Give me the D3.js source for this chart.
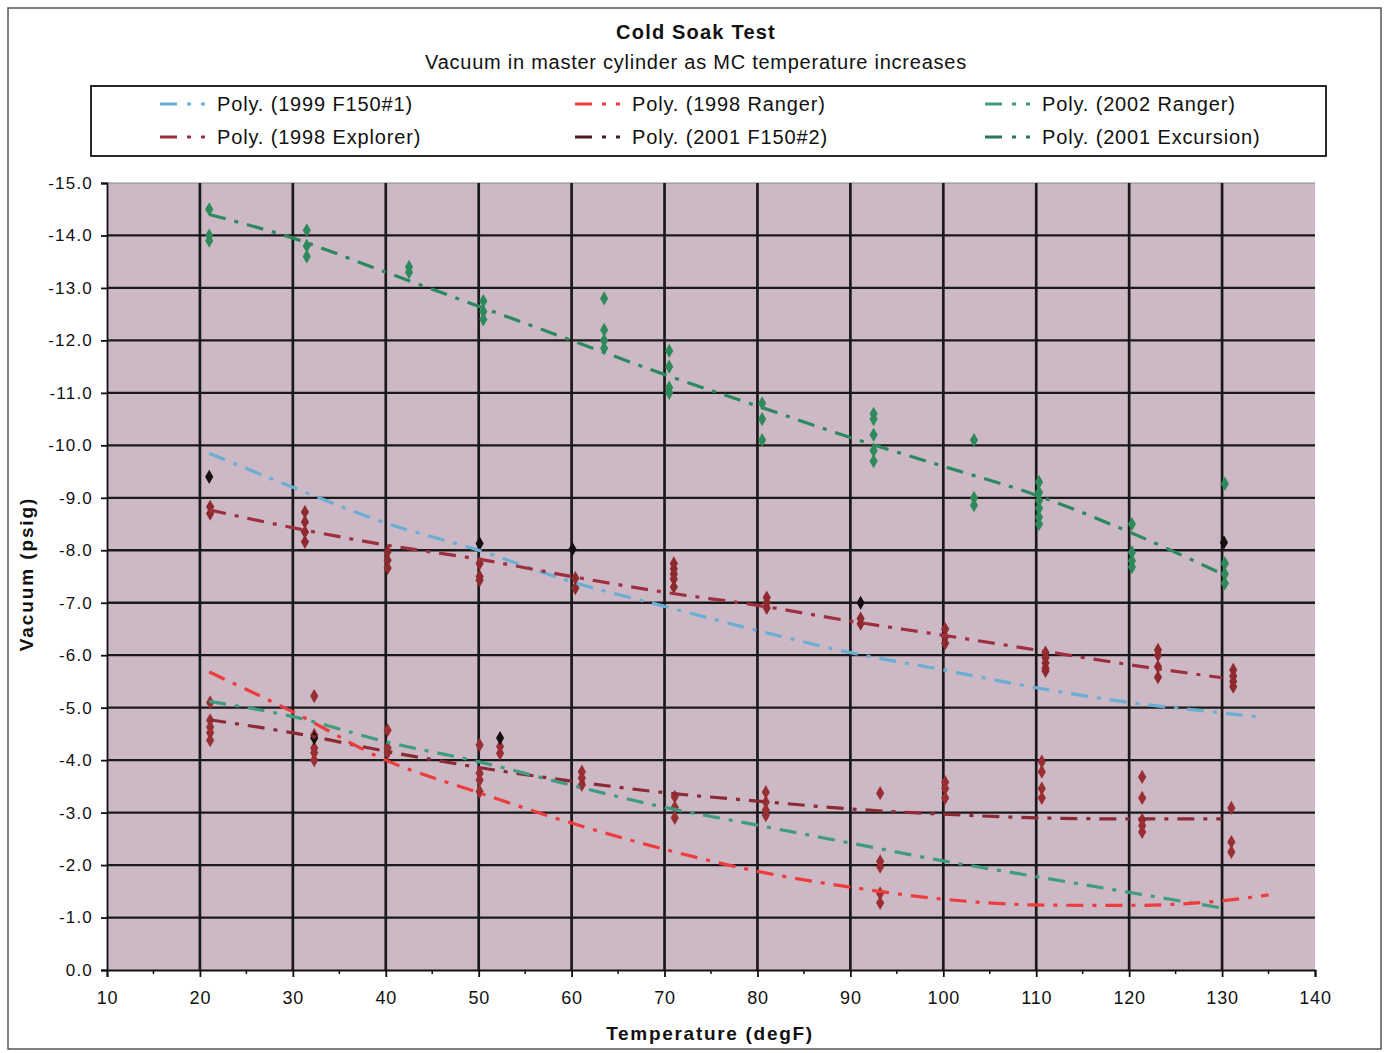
<!DOCTYPE html>
<html>
<head>
<meta charset="utf-8">
<script src="https://cdn.jsdelivr.net/npm/d3@7"></script>
<style>
  html, body { margin: 0; padding: 0; background: #fff; }
  svg { display: block; }
  text { font-family: "Liberation Sans", Arial, sans-serif; fill: #111; }
</style>
</head>
<body>
<svg id="chart" width="1385" height="1053"></svg>
<script>
// ---------- DATA ----------
const chartTitle = "Cold Soak Test";
const chartSubtitle = "Vacuum in master cylinder as MC temperature increases";
const xTitle = "Temperature (degF)";
const yTitle = "Vacuum (psig)";
const xTicks = [10, 20, 30, 40, 50, 60, 70, 80, 90, 100, 110, 120, 130, 140];
const yTicks = [0, -1, -2, -3, -4, -5, -6, -7, -8, -9, -10, -11, -12, -13, -14, -15];

// Trendline (polynomial) values
const trendX = [21, 30, 40, 50, 60, 70, 80, 90, 100, 110, 120, 130];
const f150_1Trend   = [-9.85, -9.2, -8.52, -8.0, -7.4, -6.93, -6.47, -6.05, -5.72, -5.38, -5.1, -4.9];
const f150_1TrendEnd = [[134, -4.82]];
const ranger98Trend = [-5.68, -4.92, -4.0, -3.38, -2.8, -2.3, -1.88, -1.58, -1.35, -1.24, -1.23, -1.32];
const ranger98TrendEnd = [[135, -1.43]];
const ranger02Trend = [-5.12, -4.83, -4.35, -3.97, -3.52, -3.1, -2.76, -2.42, -2.08, -1.78, -1.48, -1.18];
const explorerTrend = [-8.77, -8.43, -8.1, -7.83, -7.5, -7.2, -6.95, -6.65, -6.38, -6.1, -5.82, -5.57];
const f150_2Trend   = [-4.77, -4.52, -4.17, -3.86, -3.6, -3.38, -3.22, -3.07, -2.97, -2.9, -2.88, -2.88];
const excursionTrend = [-14.4, -13.95, -13.3, -12.65, -12.0, -11.35, -10.75, -10.15, -9.6, -9.05, -8.35, -7.55];

// Measured points [temperature, vacuum]
const excursionPoints = [
  [21, -14.5], [21, -14.0], [21, -13.9],
  [31.5, -14.1], [31.5, -13.8], [31.5, -13.6],
  [42.5, -13.4], [42.5, -13.3],
  [50.5, -12.75], [50.5, -12.55], [50.5, -12.4],
  [63.5, -12.8], [63.5, -12.2], [63.5, -12.0], [63.5, -11.85],
  [70.5, -11.8], [70.5, -11.5], [70.5, -11.1], [70.5, -11.0],
  [80.5, -10.8], [80.5, -10.5], [80.5, -10.1],
  [92.5, -10.6], [92.5, -10.5], [92.5, -10.2], [92.5, -9.9], [92.5, -9.7],
  [103.3, -10.1], [103.3, -9.0], [103.3, -8.86],
  [110.3, -9.3], [110.3, -9.1], [110.3, -8.95], [110.3, -8.8], [110.3, -8.63], [110.3, -8.5],
  [120.3, -8.5], [120.3, -7.96], [120.3, -7.8], [120.3, -7.68],
  [130.3, -9.27], [130.3, -7.75], [130.3, -7.55], [130.3, -7.37]
];
const explorerPoints = [
  [21.1, -8.83], [21.1, -8.7],
  [31.3, -8.73], [31.3, -8.54], [31.3, -8.35], [31.3, -8.16],
  [40.2, -7.97], [40.2, -7.81], [40.2, -7.66],
  [50.1, -7.75], [50.1, -7.5], [50.1, -7.43],
  [60.4, -7.47], [60.4, -7.28],
  [71, -7.75], [71, -7.65], [71, -7.55], [71, -7.45], [71, -7.3],
  [81, -7.1], [81, -7.0], [81, -6.9],
  [91.1, -6.7], [91.1, -6.6],
  [100.2, -6.5], [100.2, -6.35], [100.2, -6.23],
  [111, -6.05], [111, -5.95], [111, -5.85], [111, -5.75], [111, -5.7],
  [123.1, -6.1], [123.1, -6.0], [123.1, -5.78], [123.1, -5.58],
  [131.2, -5.72], [131.2, -5.6], [131.2, -5.5], [131.2, -5.4]
];
const lowerPoints = [
  [21.1, -5.1], [21.1, -4.76], [21.1, -4.63], [21.1, -4.52], [21.1, -4.38],
  [32.3, -5.22], [32.3, -4.48], [32.3, -4.23], [32.3, -4.14], [32.3, -4.0],
  [40.2, -4.57], [40.2, -4.23], [40.2, -4.14],
  [50.1, -4.29], [50.1, -3.75], [50.1, -3.62], [50.1, -3.4],
  [52.3, -4.26], [52.3, -4.13],
  [61.1, -3.78], [61.1, -3.66], [61.1, -3.53],
  [71.1, -3.3], [71.1, -3.1], [71.1, -2.9],
  [80.9, -3.39], [80.9, -3.2], [80.9, -3.05], [80.9, -2.95],
  [93.2, -3.37], [93.2, -2.07], [93.2, -1.97], [93.2, -1.46], [93.2, -1.28],
  [100.2, -3.58], [100.2, -3.46], [100.2, -3.28],
  [110.6, -3.97], [110.6, -3.78], [110.6, -3.46], [110.6, -3.28],
  [121.4, -3.68], [121.4, -3.28], [121.4, -2.86], [121.4, -2.75], [121.4, -2.63],
  [131, -3.09], [131, -2.44], [131, -2.25]
];
const f150_2Points = [
  [21, -9.4], [50.1, -8.13], [60.1, -8.02], [91.1, -7.0], [130.2, -8.15], [32.3, -4.42], [52.3, -4.42]
];

const legendItems = [
  { name: "Poly. (1999 F150#1)",    color: "#6aaed3", col: 0, row: 0 },
  { name: "Poly. (1998 Ranger)",    color: "#ee3b3b", col: 1, row: 0 },
  { name: "Poly. (2002 Ranger)",    color: "#3f9c80", col: 2, row: 0 },
  { name: "Poly. (1998 Explorer)",  color: "#9e2f3e", col: 0, row: 1 },
  { name: "Poly. (2001 F150#2)",    color: "#4a1a1e", col: 1, row: 1 },
  { name: "Poly. (2001 Excursion)", color: "#2a7a55", col: 2, row: 1 }
];

// ---------- DRAW ----------
const svg = d3.select("#chart");
const plot = { left: 107, right: 1315, top: 183, bottom: 970 };

const x = d3.scaleLinear().domain([10, 140]).range([plot.left, plot.right]);
const y = d3.scaleLinear().domain([0, -15]).range([plot.bottom, plot.top]);

// outer border
svg.append("rect").attr("x", 8).attr("y", 8).attr("width", 1373).attr("height", 1041)
  .attr("fill", "#fff").attr("stroke", "#555").attr("stroke-width", 1.5);

// titles
svg.append("text").attr("x", 696).attr("y", 39).attr("text-anchor", "middle")
  .attr("font-size", 20).attr("font-weight", "bold").attr("letter-spacing", 1.2).text(chartTitle);
svg.append("text").attr("x", 696).attr("y", 69).attr("text-anchor", "middle")
  .attr("font-size", 20).attr("letter-spacing", 0.75).text(chartSubtitle);

// legend
svg.append("rect").attr("x", 91).attr("y", 86).attr("width", 1235).attr("height", 70)
  .attr("fill", "#fff").attr("stroke", "#111").attr("stroke-width", 1.8);
const colX = [160, 575, 985];
const rowY = [104, 137];
legendItems.forEach(d => {
  const lx = colX[d.col], ly = rowY[d.row];
  svg.append("line").attr("x1", lx).attr("x2", lx + 54).attr("y1", ly).attr("y2", ly)
    .attr("stroke", d.color).attr("stroke-width", 3)
    .attr("stroke-dasharray", "17,10,4,10,4,20");
  svg.append("text").attr("x", lx + 57).attr("y", ly + 7).attr("font-size", 20)
    .attr("letter-spacing", 0.85).text(d.name);
});

// plot background
svg.append("rect").attr("x", plot.left).attr("y", plot.top)
  .attr("width", plot.right - plot.left).attr("height", plot.bottom - plot.top)
  .attr("fill", "#cdb8c5");

// grid
const grid = svg.append("g");
grid.selectAll("line.h").data(yTicks.filter(v => v !== 0)).join("line")
  .attr("x1", plot.left).attr("x2", plot.right)
  .attr("y1", d => y(d)).attr("y2", d => y(d))
  .attr("stroke", d => d === -15 ? "#888" : "#1a1a1a")
  .attr("stroke-width", d => d === -15 ? 1 : 2.3);
grid.selectAll("line.v").data(xTicks.filter(v => v !== 10 && v !== 140)).join("line")
  .attr("x1", d => x(d)).attr("x2", d => x(d))
  .attr("y1", plot.top).attr("y2", plot.bottom)
  .attr("stroke", "#1a1a1a").attr("stroke-width", 2.7);

// axes
const xAxis = d3.axisBottom(x).tickValues(xTicks).tickSize(7).tickPadding(14).tickFormat(d3.format("d"));
const gx = svg.append("g").attr("transform", `translate(0,${plot.bottom})`).call(xAxis);
gx.select(".domain").attr("stroke", "#111").attr("stroke-width", 1.8);
gx.selectAll(".tick line").attr("stroke", "#111").attr("stroke-width", 1.8);
gx.selectAll(".tick text").attr("font-size", 18).attr("fill", "#111").attr("letter-spacing", 0.8)
  .attr("font-family", "Liberation Sans, Arial, sans-serif");
// minor x ticks
const minorX = d3.range(15, 140, 10);
svg.append("g").selectAll("line").data(minorX).join("line")
  .attr("x1", d => x(d)).attr("x2", d => x(d))
  .attr("y1", plot.bottom).attr("y2", plot.bottom + 4)
  .attr("stroke", "#111").attr("stroke-width", 1.5);

const yAxis = d3.axisLeft(y).tickValues(yTicks).tickSize(6).tickPadding(8).tickFormat(d3.format(".1f"));
const gy = svg.append("g").attr("transform", `translate(${plot.left},0)`).call(yAxis);
gy.select(".domain").attr("stroke", "#111").attr("stroke-width", 1.8);
gy.selectAll(".tick line").attr("stroke", "#111").attr("stroke-width", 1.8);
gy.selectAll(".tick text").attr("font-size", 17).attr("fill", "#111")
  .attr("letter-spacing", 1.2)
  .attr("font-family", "Liberation Sans, Arial, sans-serif")
  .text(d => d3.format(".1f")(d).replace("−", "-"));

// axis titles
svg.append("text").attr("x", 710).attr("y", 1040).attr("text-anchor", "middle")
  .attr("font-size", 19).attr("font-weight", "bold").attr("letter-spacing", 1.7).text(xTitle);
svg.append("text").attr("transform", "translate(33,574) rotate(-90)").attr("text-anchor", "middle")
  .attr("font-size", 19).attr("font-weight", "bold").attr("letter-spacing", 1.9).text(yTitle);

// points
const diamond = d3.symbol().type(d3.symbolDiamond).size(58);
function drawPoints(data, color) {
  svg.append("g").selectAll("path").data(data).join("path")
    .attr("d", diamond)
    .attr("transform", d => `translate(${x(d[0])},${y(d[1])})`)
    .attr("fill", color);
}
drawPoints(excursionPoints, "#2e8a5a");
drawPoints(explorerPoints, "#8e2a2e");
drawPoints(lowerPoints, "#9a2f33");
drawPoints(f150_2Points, "#151010");

// trendlines
const line = d3.line().x(d => x(d[0])).y(d => y(d[1])).curve(d3.curveMonotoneX);
function drawTrend(vals, color, extra) {
  const pts = trendX.map((t, i) => [t, vals[i]]).concat(extra || []);
  svg.append("path").datum(pts).attr("d", line)
    .attr("fill", "none").attr("stroke", color).attr("stroke-width", 3.2)
    .attr("stroke-dasharray", "17,9,4,9");
}
drawTrend(excursionTrend, "#2a8a5e");
drawTrend(f150_1Trend, "#6aaed3", f150_1TrendEnd);
drawTrend(explorerTrend, "#9e2f3e");
drawTrend(f150_2Trend, "#8c2a34");
drawTrend(ranger02Trend, "#3f9c80");
drawTrend(ranger98Trend, "#ee3b3b", ranger98TrendEnd);
</script>
</body>
</html>
